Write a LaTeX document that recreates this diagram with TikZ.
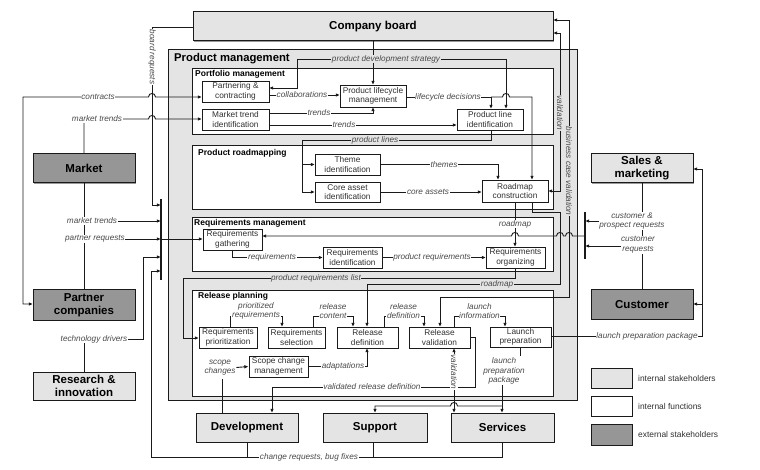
\documentclass[tikz,border=0pt]{standalone}
\usepackage{fontspec}
\setmainfont{Liberation Sans}
\usetikzlibrary{arrows.meta,shadows}
\definecolor{lgray}{HTML}{E4E4E4}
\definecolor{dgray}{HTML}{969696}
\definecolor{lncol}{HTML}{1A1A1A}
\definecolor{txcol}{HTML}{303030}
\definecolor{lbcol}{HTML}{4A4A4A}
\tikzset{
 ln/.style={draw=lncol, line width=0.9pt},
 arr/.style={ln, -{Latex[length=4.2pt,width=3.6pt]}},
 darr/.style={ln, {Latex[length=4.2pt,width=3.6pt]}-{Latex[length=4.2pt,width=3.6pt]}},
 shd/.style={drop shadow={shadow xshift=1.3pt, shadow yshift=-1.3pt, fill=black!40, opacity=1}},
 fbox/.style={draw=lncol, line width=0.9pt, fill=white, shd, align=center, inner sep=0pt, text=txcol, font=\fontsize{8.3}{9.3}\selectfont},
 sbox/.style={draw=lncol, line width=1pt, fill=#1, shd, align=center, inner sep=0pt, text=black, font=\bfseries\fontsize{11.5}{13}\selectfont},
 cbox/.style={draw=lncol, line width=0.9pt, fill=white, shd, inner sep=0pt},
 ctitle/.style={anchor=west, inner sep=0pt, font=\bfseries\fontsize{8.5}{10}\selectfont},
 lbl/.style={fill=white, inner sep=0.6pt, align=center, text=lbcol, font=\itshape\fontsize{8.2}{9.6}\selectfont},
 lblg/.style={lbl, fill=lgray},
 keytxt/.style={anchor=west, inner sep=0pt, text=txcol, font=\fontsize{8.4}{10}\selectfont},
}
\begin{document}
\begin{tikzpicture}[x=1pt,y=-1pt]
\fill[white] (0,0) rectangle (760,470);
\useasboundingbox (0,0) rectangle (760,470);

% ---------- containers ----------
\node[cbox, fill=lgray, minimum width=409, minimum height=351] (pm) at (372.5,224.5) {};
\node[anchor=west, inner sep=0pt, font=\bfseries\fontsize{11.3}{13}\selectfont] (pmt) at (174,59) {Product management};
\node[cbox, minimum width=361, minimum height=66] (pf) at (372.5,101) {};
\node[ctitle] (pft) at (195,74) {Portfolio management};
\node[cbox, minimum width=361, minimum height=64] (pr) at (372.5,177) {};
\node[ctitle] (prt) at (198,153) {Product roadmapping};
\node[cbox, minimum width=361, minimum height=54] (rm) at (372.5,244) {};
\node[ctitle] (rmt) at (194,223.5) {Requirements management};
\node[cbox, minimum width=361, minimum height=106] (rpl) at (372.5,343) {};
\node[ctitle] (rplt) at (198,296) {Release planning};

% ---------- stakeholders ----------
\node[sbox=lgray, minimum width=360, minimum height=29] (cb) at (373,26.5) {Company board};
\node[sbox=dgray, minimum width=102, minimum height=29] (mk) at (84,168.5) {Market};
\node[sbox=dgray, minimum width=102, minimum height=30] (pa) at (84,305) {Partner\\companies};
\node[sbox=lgray, minimum width=102, minimum height=28] (ri) at (84,386) {Research \&\\innovation};
\node[sbox=lgray, minimum width=102, minimum height=29] (sm) at (642,168.5) {Sales \&\\marketing};
\node[sbox=dgray, minimum width=102, minimum height=29] (cu) at (642,304.5) {Customer};
\node[sbox=lgray, minimum width=102, minimum height=29] (dev) at (247,427.5) {Development};
\node[sbox=lgray, minimum width=104, minimum height=29] (sup) at (375,427.5) {Support};
\node[sbox=lgray, minimum width=103, minimum height=29] (srv) at (502.5,427.5) {Services};

% ---------- functions ----------
\node[fbox, minimum width=67, minimum height=21] (pc) at (235.5,91.5) {Partnering \&\\contracting};
\node[fbox, minimum width=67, minimum height=21] (mti) at (235.5,119.5) {Market trend\\identification};
\node[fbox, minimum width=66, minimum height=22] (plm) at (373,96) {Product lifecycle\\management};
\node[fbox, minimum width=66, minimum height=21] (pli) at (490,119.5) {Product line\\identification};
\node[fbox, minimum width=65, minimum height=21] (thi) at (347.5,164.5) {Theme\\identification};
\node[fbox, minimum width=65, minimum height=20] (cai) at (347.5,192) {Core asset\\identification};
\node[fbox, minimum width=66, minimum height=22] (rc) at (515,191) {Roadmap\\construction};
\node[fbox, minimum width=59, minimum height=21] (rg) at (232.5,239.5) {Requirements\\gathering};
\node[fbox, minimum width=59, minimum height=21] (rid) at (352.5,257.5) {Requirements\\identification};
\node[fbox, minimum width=59, minimum height=21] (ro) at (515.5,257.5) {Requirements\\organizing};
\node[fbox, minimum width=58, minimum height=21] (rp) at (228,337.5) {Requirements\\prioritization};
\node[fbox, minimum width=57, minimum height=21] (rs) at (296.5,337.5) {Requirements\\selection};
\node[fbox, minimum width=61, minimum height=21] (rd) at (367.5,337.5) {Release\\definition};
\node[fbox, minimum width=61, minimum height=21] (rv) at (439.5,337.5) {Release\\validation};
\node[fbox, minimum width=61, minimum height=20] (lp) at (520.5,337) {Launch\\preparation};
\node[fbox, minimum width=59, minimum height=21] (scm) at (278.5,366.5) {Scope change\\management};

% ---------- legend ----------
\node[sbox=lgray, minimum width=41, minimum height=20] (k1) at (611.5,378) {};
\node[sbox=white, minimum width=41, minimum height=20] (k2) at (611.5,406) {};
\node[sbox=dgray, minimum width=41, minimum height=21] (k3) at (611.5,434.5) {};
\node[keytxt] (k1t) at (638,378) {internal stakeholders};
\node[keytxt] (k2t) at (638,406.5) {internal functions};
\node[keytxt] (k3t) at (638,434.5) {external stakeholders};

% ---------- connectors ----------
% board requests
\draw[arr] (193,27) -- (152,27) -- (152,205) -- (161,205);
% contracts
\draw[darr] (33,304) -- (23,304) -- (23,97) -- (148.5,97) .. controls (148.5,92.3) and (155.5,92.3) .. (155.5,97) -- (202,97);
% market trends (top)
\draw[arr] (84,154) -- (84,119) -- (148.5,119) .. controls (148.5,114.3) and (155.5,114.3) .. (155.5,119) -- (202,119);
% product development strategy
\draw[arr] (373,41) -- (373,85);
\draw[arr] (297,59) -- (297,88) -- (269,88);
\draw[ln] (297,59) -- (506,59);
\draw[arr] (506,59) -- (506,109);
% collaborations
\draw[arr] (269,95) -- (340,95);
% trends
\draw[arr] (269,113) -- (373,113) -- (373,107);
\draw[arr] (269,125) -- (457,125);
% lifecycle decisions
\draw[arr] (406,97) -- (491,97) -- (491,109);
\draw[arr] (491,97) -- (502.5,97) .. controls (502.5,92.3) and (509.5,92.3) .. (509.5,97) -- (532,97) -- (532,180);
% product lines
\draw[arr] (491,130) -- (491,140) -- (302,140) -- (302,192) -- (315,192);
\draw[arr] (302,164.5) -- (315,164.5);
% themes, core assets
\draw[arr] (380,164.5) -- (498,164.5) -- (498,180);
\draw[arr] (380,192) -- (482,192);
% validation / business case validation
\draw[darr] (548,191) -- (560,191) -- (560,33) -- (553,33);
\draw[darr] (440,327) -- (440,297) -- (569,297) -- (569,20) -- (553,20);
% roadmap
\draw[arr] (515,202) -- (515,247);
\draw[arr] (532,202) -- (532,212) -- (560,212) -- (560,284) -- (367,284) -- (367,327);
% requirements management flows
\draw[arr] (382,257.5) -- (486,257.5);
\draw[arr] (232,250) -- (232,257.5) -- (323,257.5);
\draw[arr] (515,268) -- (515,278) -- (183,278) -- (183,338) -- (199,338);
% customer requests to gathering
\draw[arr] (585,236) -- (572.5,236) .. controls (572.5,231.3) and (565.5,231.3) .. (565.5,236) -- (563.5,236) .. controls (563.5,231.3) and (556.5,231.3) .. (556.5,236) -- (518.5,236) .. controls (518.5,231.3) and (511.5,231.3) .. (511.5,236) -- (262,236);
% left collector
\draw[ln, line width=1.1pt] (161,199) -- (161,280);
\draw[ln] (84,183) -- (84,290);
\draw[arr] (84,221) -- (161,221);
\draw[arr] (84,239) -- (161,239);
\draw[arr] (161,239) -- (203,239);
\draw[arr] (84,372) -- (84,339) -- (143,339) -- (143,257) -- (161,257);
\draw[ln] (502,442) -- (502,457) -- (247,457);
\draw[ln] (373,442) -- (373,457);
\draw[arr] (247,442) -- (247,457) -- (151,457) -- (151,271) -- (161,271);
% right collector
\draw[ln, line width=1.1pt] (585,212) -- (585,259);
\draw[ln] (642,183) -- (642,290);
\draw[arr] (642,221) -- (585,221);
\draw[arr] (642,246) -- (585,246);
% launch preparation package to customers
\draw[arr] (551,336) -- (702,336) -- (702,169) -- (693,169);
\draw[arr] (702,304) -- (693,304);
% release planning brackets
\draw[arr] (230,327) -- (230,316) -- (282,316) -- (282,327);
\draw[arr] (313,327) -- (313,316) -- (353,316) -- (353,327);
\draw[arr] (384,327) -- (384,316) -- (424,316) -- (424,327);
\draw[arr] (454,327) -- (454,316) -- (505,316) -- (505,327);
% adaptations
\draw[arr] (308,366.5) -- (367,366.5) -- (367,348);
% scope changes
\draw[ln] (222,413) -- (222,379);
% validated release definition
\draw[arr] (470,337) -- (475,337) -- (475,387) -- (272,387) -- (272,413);
% validation (services)
\draw[darr] (454,348) -- (454,413);
% launch preparation package (bottom)
\draw[ln] (520,347) -- (520,356);
\draw[arr] (502,382) -- (502,413);
\draw[arr] (502,406) -- (457.5,406) .. controls (457.5,401.3) and (450.5,401.3) .. (450.5,406) -- (375,406) -- (375,413);

% ---------- labels ----------
\node[lbl, rotate=-90] (lbr) at (152,57) {board requests};
\node[lbl] (lct) at (98,97) {contracts};
\node[lbl] (lmt1) at (97,119) {market trends};
\node[lblg] (lpds) at (386,59) {product development strategy};
\node[lbl] (lcol) at (302,95) {collaborations};
\node[lbl] (ltr1) at (319,113) {trends};
\node[lbl] (ltr2) at (344,125) {trends};
\node[lbl] (llcd) at (448,97) {lifecycle decisions};
\node[lblg] (lpl) at (375,140) {product lines};
\node[lbl] (lth) at (444,164.5) {themes};
\node[lbl] (lca) at (428,192) {core assets};
\node[lblg, rotate=-90, inner sep=0.3pt] (lval) at (560,113) {validation};
\node[lblg, rotate=-90, inner sep=0.3pt] (lbcv) at (569,171) {business case validation};
\node[lbl] (lrm1) at (515,224) {roadmap};
\node[lblg] (lrm2) at (497,284) {roadmap};
\node[lbl] (lpr) at (432,257.5) {product requirements};
\node[lbl] (lreq) at (272,257.5) {requirements};
\node[lblg] (lprl) at (316,278) {product requirements list};
\node[lbl] (lmt2) at (92,221) {market trends};
\node[lbl] (lprq) at (95,239) {partner requests};
\node[lbl] (ltd) at (94,339) {technology drivers};
\node[lbl] (lcrb) at (309,457) {change requests, bug fixes};
\node[lbl] (lcpr) at (632,221) {customer \&\\prospect requests};
\node[lbl] (lcr) at (638,245) {customer\\requests};
\node[lbl] (llpp1) at (647,336) {launch preparation package};
\node[lbl] (lprio) at (256,311) {prioritized\\requirements};
\node[lbl] (lrc) at (333,311) {release\\content};
\node[lbl] (lrdf) at (403.5,311) {release\\definition};
\node[lbl] (lli) at (479.5,311) {launch\\information};
\node[lbl] (lad) at (343,366.5) {adaptations};
\node[lbl] (sc) at (220,367.5) {scope\\changes};
\node[lbl] (lvrd) at (372,387) {validated release definition};
\node[lbl, rotate=-90] (lval2) at (454,372) {validation};
\node[lbl] (lpp) at (504,371) {launch\\preparation\\package};
\draw[arr] (sc.east) -- (scm.west);
\end{tikzpicture}
\end{document}
